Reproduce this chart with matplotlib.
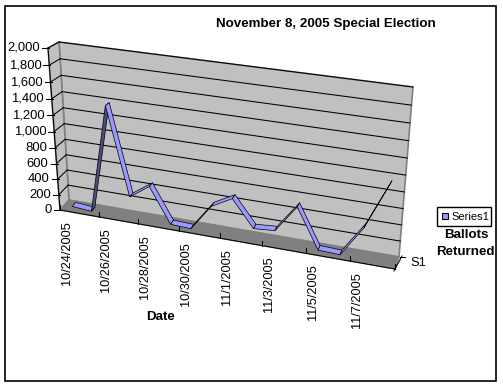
import numpy as np
import matplotlib
matplotlib.use('Agg')
import matplotlib.pyplot as plt
from matplotlib.patches import Polygon, Rectangle

plt.rcParams['font.family'] = ['Liberation Sans', 'DejaVu Sans']

dates = ['10/24/2005', '10/25/2005', '10/26/2005', '10/27/2005', '10/28/2005', '10/29/2005',
	'10/30/2005', '10/31/2005', '11/1/2005', '11/2/2005', '11/3/2005', '11/4/2005',
	'11/5/2005', '11/6/2005', '11/7/2005', '11/8/2005']
ballots = [30, 10, 1380, 285, 460, 20, 10, 340, 480, 150, 170, 510, 20, 10, 390, 950]
y_ticks = [0, 200, 400, 600, 800, 1000, 1200, 1400, 1600, 1800, 2000]
title = 'November 8, 2005 Special Election'
series_name = 'Series1'
depth_label = 'S1'


def homography(corners):
	# unit square -> corners (0,0),(1,0),(1,1),(0,1)
	src = [(0, 0), (1, 0), (1, 1), (0, 1)]
	A = []
	b = []
	for (u, v), (x, y) in zip(src, corners):
		A.append([u, v, 1, 0, 0, 0, -u*x, -v*x])
		A.append([0, 0, 0, u, v, 1, -u*y, -v*y])
		b += [x, y]
	h = np.linalg.solve(np.array(A, float), np.array(b, float))
	return np.append(h, 1).reshape(3, 3)


# pixel corners of the 3d box
back = homography([(69, 200), (399, 257), (413, 87), (59, 42)])
front = homography([(60, 210), (395, 269), (406, 95), (48, 48)])
n = len(dates)
vmax = y_ticks[-1]


def project(i, v, d):
	# i category position, v value, d depth 0=front 1=back
	p = np.array([i/n, v/vmax, 1.0])
	a = back @ p
	b = front @ p
	a = a[:2]/a[2]
	b = b[:2]/b[2]
	return a*d + b*(1-d)


def seg(a, b, col='black'):
	ax.plot([a[0], b[0]], [a[1], b[1]], color=col, lw=0.75)


fig = plt.figure(figsize=(5.03, 3.87), dpi=100)
ax = fig.add_axes([0, 0, 1, 1])
ax.set_xlim(0, 503)
ax.set_ylim(387, 0)
ax.axis('off')

ax.add_patch(Rectangle((5.5, 5.5), 490.5, 375.5, fc='white', ec='black', lw=1.2))

# walls and floor
ax.add_patch(Polygon([project(0, 0, 1), project(n, 0, 1), project(n, vmax, 1), project(0, vmax, 1)],
	fc='#c0c0c0', ec='#808080', lw=1.2))
ax.add_patch(Polygon([project(0, 0, 0), project(0, 0, 1), project(0, vmax, 1), project(0, vmax, 0)],
	fc='#c0c0c0', ec='#808080', lw=1.2))
ax.add_patch(Polygon([project(0, 0, 0), project(n, 0, 0), project(n, 0, 1), project(0, 0, 1)],
	fc='#808080', ec='#808080', lw=1))

for t in y_ticks[1:]:
	seg(project(0, t, 1), project(n, t, 1))
	seg(project(0, t, 1), project(0, t, 0))

# axes lines
seg(project(0, 0, 0), project(0, vmax, 0))
seg(project(0, 0, 0), project(n, 0, 0))
c = project(n, 0, 0)
e = project(n, 0, 1)
seg(c + (-1, 2), e + (3, -1))
seg(e + (1, 0), e + (6, 0))
ax.text(e[0]+11, e[1]+6, depth_label, fontsize=9.4, ha='left', va='center')

for t in y_ticks:
	p = project(0, t, 0)
	seg(p + (-6, 0), p + (1, 0))
	ax.text(p[0]-8, p[1], format(t, ','), fontsize=9.4, ha='right', va='center')

for i in range(0, n+1, 2):
	p = project(i, 0, 0)
	seg(p + (0, 0), p + (0, -5))
	if i < n:
		ax.text(p[0]+7, p[1]+11, dates[i], rotation=90, fontsize=9.2, ha='center', va='top')

# ribbon
for i in range(n-1):
	p0 = project(i+0.5, ballots[i], 0.3)
	p1 = project(i+1.5, ballots[i+1], 0.3)
	p2 = project(i+1.5, ballots[i+1], 0.7)
	p3 = project(i+0.5, ballots[i], 0.7)
	col = '#4c4c80' if ballots[i+1] - ballots[i] > 1000 else '#9999ff'
	ax.add_patch(Polygon([p0, p1, p2, p3], fc=col, ec='black', lw=0.5, zorder=3))

ax.text(325.5, 24, title, fontsize=9.6, fontweight='bold', ha='center', va='center')
ax.text(161, 317, 'Date', fontsize=9.6, fontweight='bold', ha='center', va='center')

ax.add_patch(Rectangle((437.5, 206.5), 54, 19.5, fc='white', ec='black', lw=1))
ax.add_patch(Rectangle((442, 213), 6, 6, fc='#9999ff', ec='black', lw=0.8))
ax.text(451, 216.5, series_name, fontsize=8, ha='left', va='center')
ax.text(466, 235, 'Ballots', fontsize=9.6, fontweight='bold', ha='center', va='center')
ax.text(465.5, 252, 'Returned', fontsize=9.6, fontweight='bold', ha='center', va='center')

fig.savefig('out.png', dpi=100)
